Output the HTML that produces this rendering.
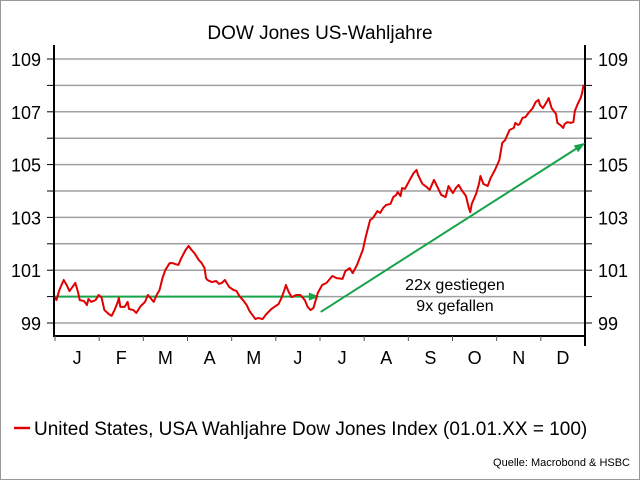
<!DOCTYPE html>
<html><head><meta charset="utf-8"><style>
body{margin:0;background:#fff}
svg{display:block;font-family:"Liberation Sans",sans-serif}
</style></head><body>
<svg id="chart" width="640" height="480" viewBox="0 0 640 480">
<rect x="0.5" y="0.5" width="639" height="479" fill="#fff" stroke="#999"/>
<text x="320" y="39" text-anchor="middle" font-size="19">DOW Jones US-Wahljahre</text>
<g id="grid"></g><g id="axes"></g><g id="series"></g>
<text x="455" y="290" text-anchor="middle" font-size="16">22x gestiegen</text>
<text x="455" y="311" text-anchor="middle" font-size="16">9x gefallen</text>
<line x1="14" y1="428" x2="30" y2="428" stroke="#e00000" stroke-width="2.5"/>
<text x="34" y="435" font-size="19">United States, USA Wahljahre Dow Jones Index (01.01.XX = 100)</text>
<text x="630" y="466" text-anchor="end" font-size="11">Quelle: Macrobond &amp; HSBC</text>
</svg>
<script>
const days=[0,1,3,6,8,10,12,14,16,17,20,22,23,25,28,30,32,34,37,39,41,43,44,45,48,50,51,54,56,59,62,64,68,70,72,74,76,79,81,83,85,87,90,92,94,96,99,101,103,104,105,108,111,113,115,117,120,123,125,127,130,132,134,136,138,140,143,145,147,149,151,154,156,158,159,161,163,166,169,172,174,176,178,181,184,187,191,194,198,200,203,205,208,212,214,217,219,222,224,226,228,231,233,235,236,238,239,241,245,247,249,250,253,256,258,261,263,266,269,271,274,276,278,280,283,285,286,287,290,292,293,295,298,300,303,306,308,310,313,316,317,319,320,322,324,326,329,331,333,334,336,339,340,342,345,346,348,350,351,353,355,357,358,360,362,363,364];
const values=[99.98,99.87,100.25,100.63,100.44,100.21,100.36,100.52,100.14,99.87,99.83,99.68,99.91,99.80,99.87,100.06,99.98,99.49,99.34,99.27,99.49,99.76,99.95,99.61,99.61,99.80,99.53,99.49,99.38,99.64,99.80,100.06,99.80,100.06,100.25,100.70,101.01,101.27,101.27,101.23,101.20,101.46,101.77,101.92,101.77,101.65,101.39,101.27,101.08,100.70,100.63,100.55,100.59,100.48,100.52,100.63,100.36,100.25,100.21,100.02,99.83,99.68,99.45,99.30,99.15,99.19,99.15,99.30,99.42,99.53,99.61,99.72,99.95,100.25,100.44,100.17,99.98,100.06,100.06,99.87,99.61,99.49,99.57,100.14,100.44,100.52,100.78,100.70,100.67,100.97,101.08,100.89,101.20,101.77,102.26,102.90,102.98,103.24,103.17,103.36,103.47,103.51,103.77,103.85,103.96,103.81,104.11,104.08,104.49,104.68,104.80,104.61,104.27,104.15,104.04,104.42,104.19,103.85,103.77,104.19,103.92,104.11,104.23,104.04,103.81,103.36,103.20,103.51,103.89,104.27,104.57,104.27,104.19,104.49,104.80,105.17,105.82,105.93,106.31,106.39,106.58,106.50,106.54,106.77,106.80,106.95,107.14,107.37,107.45,107.26,107.14,107.41,107.52,107.14,106.92,106.58,106.50,106.39,106.54,106.61,106.58,106.61,107.03,107.30,107.52,107.71,108.02];
const months=["J","F","M","A","M","J","J","A","S","O","N","D"];
const yTicks=[99,101,103,105,107,109];
const flatTrend=[[0,100],[181,100]];
const upTrend=[[183,99.42],[364,105.78]];

const NS="http://www.w3.org/2000/svg";
const L=54,R=585,T=45,B=336;
const x=d=>L+1+d*(R-L-1)/365;
const y=v=>323-(v-99)*26.4;
function mk(tag,attrs,parent){const e=document.createElementNS(NS,tag);for(const k in attrs)e.setAttribute(k,attrs[k]);document.getElementById(parent).appendChild(e);return e;}

for(let v=99;v<=109;v++){
  const g=mk('line',{x1:L,x2:R,y1:y(v),y2:y(v),stroke:'#a0a0a0','stroke-width':1.5},'grid');
  
  
  const t1=mk('line',{x1:L-7,x2:L,y1:y(v),y2:y(v),stroke:'#000'},'axes');
  
  
  const t2=mk('line',{x1:R,x2:R+7,y1:y(v),y2:y(v),stroke:'#000'},'axes');
  
  
}
yTicks.forEach(v=>{
  const a=mk('text',{x:41,y:y(v)+7,'text-anchor':'end','font-size':18},'axes');a.textContent=v;
  
  
  const b=mk('text',{x:598,y:y(v)+7,'font-size':18},'axes');b.textContent=v;
  
  
});
const la=mk('line',{x1:L,x2:L,y1:T,y2:B,stroke:'#000','stroke-width':2},'axes');


const ra=mk('line',{x1:R,x2:R,y1:T,y2:B+10,stroke:'#000','stroke-width':2},'axes');


const ba=mk('line',{x1:L-1,x2:R+1,y1:B,y2:B,stroke:'#000','stroke-width':2},'axes');


months.forEach((m,i)=>{
  const d0=i*365/12;
  const tk=mk('line',{x1:x(d0),x2:x(d0),y1:B,y2:B+5,stroke:'#555'},'axes');
  
  
  const t=mk('text',{x:x(d0+365/24),y:364,'text-anchor':'middle','font-size':18},'axes');t.textContent=m;
  
  
});
function arrow(pts,name){
  const [a,b]=pts;const x1=x(a[0]),y1=y(a[1]),x2=x(b[0]),y2=y(b[1]);
  const ln=mk('line',{x1,y1,x2,y2,stroke:'#16a34a','stroke-width':2},'series');
  
  
  const ang=Math.atan2(y2-y1,x2-x1),s=9,w=4;
  const p=[[x2+2*Math.cos(ang),y2+2*Math.sin(ang)],[x2-s*Math.cos(ang)+w*Math.sin(ang),y2-s*Math.sin(ang)-w*Math.cos(ang)],[x2-s*Math.cos(ang)-w*Math.sin(ang),y2-s*Math.sin(ang)+w*Math.cos(ang)]];
  const hd=mk('polygon',{points:p.map(q=>q.join(',')).join(' '),fill:'#16a34a'},'series');
  
  
}
arrow(flatTrend,'flat-trend-arrow');
arrow(upTrend,'up-trend-arrow');
const path=mk('polyline',{points:days.map((d,i)=>x(d)+','+y(values[i])).join(' '),fill:'none',stroke:'#e00000','stroke-width':2,'stroke-linejoin':'round'},'series');


</script>
</body></html>
